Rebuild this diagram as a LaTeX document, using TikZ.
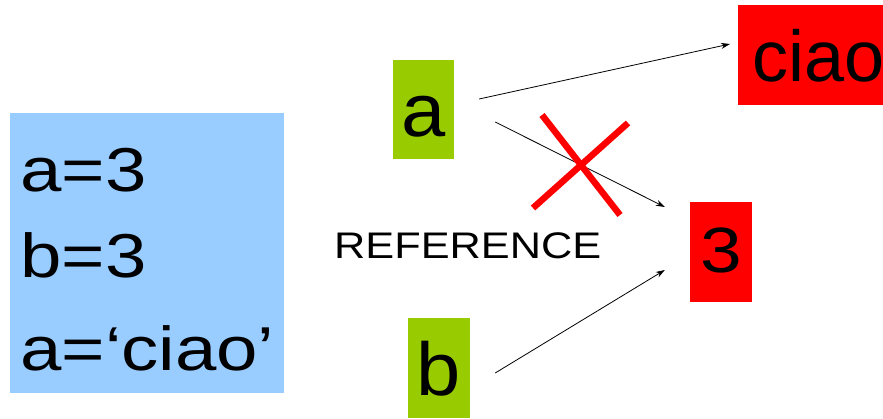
\documentclass[tikz,border=0pt]{standalone}
\usepackage{fontspec}
\setmainfont{Liberation Sans}
\newfontfamily\codefont[FakeStretch=1.2]{Liberation Sans}
\newfontfamily\tagfont[FakeStretch=1.17]{Liberation Sans}
\newfontfamily\boxfont[FakeStretch=1.06]{Liberation Sans}
\usetikzlibrary{arrows.meta,positioning}
\definecolor{membg}{HTML}{99CCFF}
\definecolor{namebg}{HTML}{99CC00}
\definecolor{objbg}{HTML}{FF0000}

\begin{document}
\begin{tikzpicture}[
  x=1pt, y=1pt,
  >={Stealth[length=9pt,width=6pt]},
  varbox/.style={fill=namebg, minimum width=61pt, minimum height=99pt, inner sep=0pt, text height=54pt, text depth=0pt, font=\boxfont\fontsize{75}{75}\selectfont},
  objbox/.style={varbox, fill=objbg, minimum height=100pt},
  codeline/.style={anchor=base west, inner sep=0pt, font=\codefont\fontsize{62}{62}\selectfont},
  arr/.style={->, line width=0.8pt},
  xline/.style={draw=objbg, line width=6.5pt}
]
\useasboundingbox (0,0) rectangle (883,418);

% memory panel with the assignments
\node[fill=membg, minimum width=274pt, minimum height=280pt, inner sep=0pt] (mem) at (147,165) {};
\node[codeline] (l1) at (20,226) {a=3};
\node[codeline] (l2) at ([yshift=-86pt]l1.base west) {b=3};
\node[codeline] (l3) at ([yshift=-92pt]l2.base west) {a=‘ciao’};

% names and objects
\node[varbox] (a) at (423.5,308.5) {a};
\node[varbox, minimum width=62pt, minimum height=100pt] (b) at (439,50) {b};
\node[objbox, anchor=west, minimum width=150pt, inner xsep=0pt, font=\fontsize{72}{72}\selectfont] (ciao) at (738,363) {\hspace*{10pt}ciao\hfill};
\node[objbox, minimum width=62pt, text height=40pt, font=\tagfont\fontsize{64}{64}\selectfont] (three) at (721,166) {3};
\node[anchor=base west, inner sep=0pt, font=\tagfont\fontsize{37}{37}\selectfont] (ref) at (334,159) {REFERENCE};

% references
\draw[arr] ([xshift=25pt,yshift=10.5pt]a.east) -- ([xshift=-8pt,yshift=11pt]ciao.west);
\draw[arr] ([xshift=41pt,yshift=-12.5pt]a.east) -- ([xshift=-25pt,yshift=45pt]three.west);
\draw[arr] ([xshift=25pt,yshift=-5pt]b.east) -- ([xshift=-25pt,yshift=-18pt]three.west);

% old reference crossed out
\coordinate (cut) at (581,253);
\draw[xline] ([shift={(-39,50)}]cut) -- ([shift={(39,-50)}]cut);
\draw[xline] ([shift={(47,42)}]cut) -- ([shift={(-48,-43)}]cut);
\end{tikzpicture}
\end{document}
